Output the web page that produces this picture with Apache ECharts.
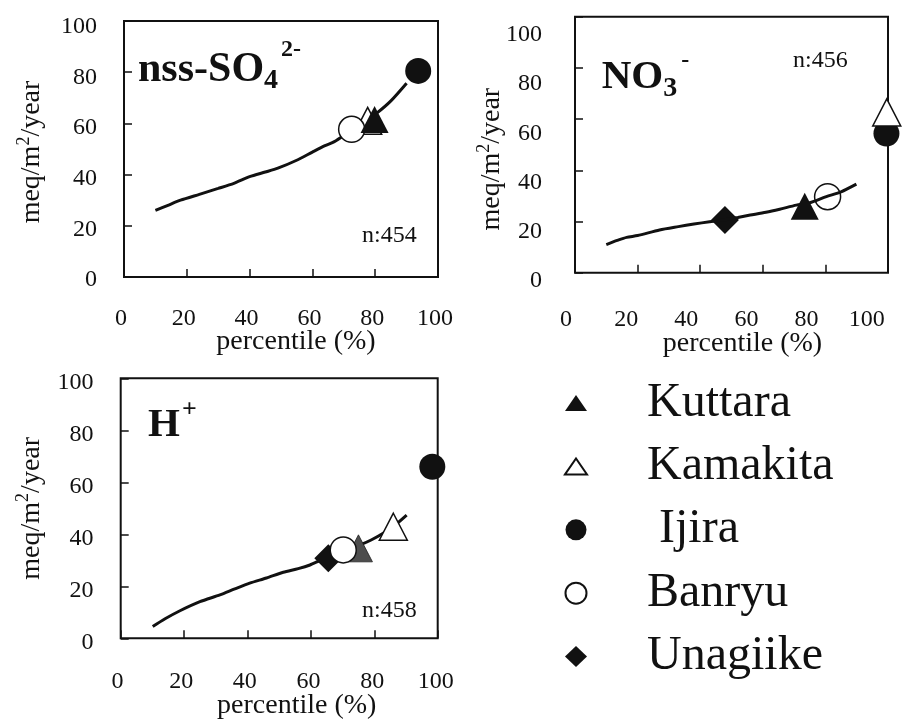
<!DOCTYPE html>
<html>
<head>
<meta charset="utf-8">
<script src="https://cdn.jsdelivr.net/npm/echarts@6/dist/echarts.min.js"></script>
<style>
html,body{margin:0;padding:0;background:#fff;}
#chart{width:902px;height:721px;}
</style>
</head>
<body>
<div id="chart"></div>
<script>
// ---------- data ----------
const axisMin = 0, axisMax = 100, tickStep = 20;
const siteNames = ['Kuttara', 'Kamakita', 'Ijira', 'Banryu', 'Unagiike'];

// percentile curves [percentile, meq/m2/year]
const so4Curve = [[10,26],[14,28],[18,30],[24,32.3],[30,34.6],[35,36.6],[40,39.2],[45,41],[49,42.5],[55,45.6],[60,48.8],[64,51.3],[67,52.9],[70,55.3],[73,58],[77,61],[80.5,64],[85,68.8],[90,75.7]];
const no3Curve = [[10,11],[13.5,12.6],[16.5,13.8],[20,14.5],[27,16.7],[33,18],[38,19],[43,19.9],[47.3,20.6],[52,21.6],[56,22.5],[61,23.6],[65.4,24.8],[70.7,26.4],[75,27.3],[80.3,29.7],[85,31.6],[89.9,34.6]];
const hCurve = [[10.1,4.5],[14,7.5],[18.7,10.6],[25,14.1],[31.3,16.7],[36,19],[40.7,21.2],[46,23.2],[51.3,25.4],[56,26.8],[59.7,28.2],[63,30],[67.1,32],[71,33.8],[75.5,35.9],[79,37.8],[82.8,40.4],[86.5,43.5],[90.2,47.4]];

// site points per panel, ordered as siteNames (null = not shown)
const so4Points = [[79.8,61.5],[77.6,61],[93.7,80.5],[72.5,57.7],null];
const no3Points = [[73.4,26],[99.6,62.6],[99.5,54.4],[80.7,29.7],[47.9,20.6]];
const hPoints   = [[75,34.6],[86,42.9],[98.3,66],[70.2,34],[65.5,30.8]];

const sampleCounts = ['n:454', 'n:456', 'n:458'];

// ---------- styles ----------
const FONT = '"Liberation Serif","Times New Roman",serif';
const INK = '#111';

const frames = [
  {left:124, top:21, width:314, height:256},
  {left:575, top:16.7, width:313, height:256},
  {left:120.7, top:378.3, width:317, height:260}
];
const labelGrids = [
  {left:121, top:27, width:314, height:253},
  {left:566, top:35, width:300.7, height:246},
  {left:117.5, top:382.5, width:318.3, height:260}
];
const xNameGap = [50.5, 56.6, 53.4];
const xNamePad = [30, 22, 35];
const yNameGap = [74, 65, 71];
const yNamePad = [6, 29, 0];

const panelPoints = [so4Points, no3Points, hPoints];
const panelCurves = [so4Curve, no3Curve, hCurve];

const symbolOf = ['triangle','triangle','circle','circle','diamond'];
const sizeOf = [[28,27],[28,27],26,26,28];
function itemStyleOf(siteIdx, panel){
  const open = siteIdx === 1 || siteIdx === 3;
  if (open) return {color:'#fff', borderColor:INK, borderWidth:1.5, opacity:1};
  if (siteIdx === 0 && panel === 2) return {color:'#4d4d4d', borderColor:'#222', borderWidth:0.8, opacity:1};
  return {color:INK, opacity:1};
}
// draw order (z) per panel for sites
const zOrder = [
  [6,4,7,5,3],
  [4,8,7,3,3],
  [5,7,8,6,4]
];
const lineZ = [2,3.5,2];

const grid = [];
const xAxis = [];
const yAxis = [];
const series = [];

frames.forEach((f,i)=>{
  grid.push(Object.assign({show:true, borderColor:INK, borderWidth:2, backgroundColor:'transparent'}, f));
  xAxis.push({
    gridIndex:i, type:'value', min:axisMin, max:axisMax, interval:tickStep,
    axisLine:{show:false}, splitLine:{show:false},
    axisTick:{show:true, inside:true, length:8, lineStyle:{color:INK, width:1.5}},
    axisLabel:{show:false},
    name:'percentile (%)', nameLocation:'middle', nameGap:xNameGap[i],
    nameTextStyle:{fontFamily:FONT, fontSize:28, color:INK, lineHeight:28, padding:[0,0,0,xNamePad[i]]}
  });
  yAxis.push({
    gridIndex:i, type:'value', min:axisMin, max:axisMax, interval:tickStep,
    axisLine:{show:false}, splitLine:{show:false},
    axisTick:{show:true, inside:true, length:8, lineStyle:{color:INK, width:1.5}},
    axisLabel:{show:false},
    name:'{a|meq/m}{s|2}{a|/year}', nameLocation:'middle', nameGap:yNameGap[i],
    nameTextStyle:{fontFamily:FONT, fontSize:28, color:INK, padding:[0,yNamePad[i],0,0],
      rich:{
        a:{fontFamily:FONT, fontSize:28, color:INK, lineHeight:36},
        s:{fontFamily:FONT, fontSize:18, color:INK, lineHeight:21, verticalAlign:'top', padding:[1,0,0,0]}
      }}
  });
});
labelGrids.forEach((g,i)=>{
  grid.push(Object.assign({show:false}, g));
  xAxis.push({
    gridIndex:3+i, type:'value', min:axisMin, max:axisMax, interval:tickStep,
    axisLine:{show:false}, axisTick:{show:false}, splitLine:{show:false},
    axisLabel:{show:true, margin:27, fontFamily:FONT, fontSize:24, color:INK, lineHeight:24}
  });
  yAxis.push({
    gridIndex:3+i, type:'value', min:axisMin, max:axisMax, interval:tickStep,
    axisLine:{show:false}, axisTick:{show:false}, splitLine:{show:false},
    axisLabel:{show:true, margin:24, fontFamily:FONT, fontSize:24, color:INK}
  });
});

// site series (panel 0 first so legend picks black Kuttara)
for (let p=0;p<3;p++){
  series.push({
    type:'line', name:'curve'+p, xAxisIndex:p, yAxisIndex:p, data:panelCurves[p],
    showSymbol:false, smooth:0.25, z:lineZ[p],
    lineStyle:{color:INK, width:3}, silent:true
  });
  siteNames.forEach((name,s)=>{
    const pt = panelPoints[p][s];
    series.push({
      type:'scatter', name:name, xAxisIndex:p, yAxisIndex:p,
      data: pt ? [pt] : [],
      symbol:symbolOf[s], symbolSize:sizeOf[s], clip:false,
      itemStyle:itemStyleOf(s,p), z:zOrder[p][s]
    });
  });
}

const boldRich = (size, extra) => Object.assign({fontFamily:FONT, fontWeight:'bold', fontSize:size, color:INK}, extra);
const titles = [
  {left:138, top:30, padding:0, text:'{m|nss-SO}{b|4}{t|2-}',
   textStyle:{rich:{
     m:boldRich(42,{lineHeight:80}),
     b:boldRich(28,{verticalAlign:'bottom', padding:[0,0,15.5,0]}),
     t:boldRich(24,{verticalAlign:'top', padding:[8,0,0,3]})
   }}},
  {left:601.7, top:37, padding:0, text:'{m|NO}{b|3}{t|-}',
   textStyle:{rich:{
     m:boldRich(41,{lineHeight:80}),
     b:boldRich(28,{verticalAlign:'bottom', padding:[0,0,14.5,0]}),
     t:boldRich(24,{verticalAlign:'top', padding:[12,0,0,4]})
   }}},
  {left:148, top:385, padding:0, text:'{m|H}{t|+}',
   textStyle:{rich:{
     m:boldRich(41,{lineHeight:80}),
     t:boldRich(26,{verticalAlign:'top', padding:[12,0,0,2]})
   }}},
  {left:362, top:224, padding:0, text:sampleCounts[0], textStyle:{fontFamily:FONT, fontWeight:'normal', fontSize:24, color:INK, lineHeight:24}},
  {left:793, top:49, padding:0, text:sampleCounts[1], textStyle:{fontFamily:FONT, fontWeight:'normal', fontSize:24, color:INK, lineHeight:24}},
  {left:362, top:598.5, padding:0, text:sampleCounts[2], textStyle:{fontFamily:FONT, fontWeight:'normal', fontSize:24, color:INK, lineHeight:24}}
];

const triIcon = 'path://M0,16L11,0L22,16Z';
const option = {
  backgroundColor:'#fff',
  animation:false,
  title:titles,
  grid:grid, xAxis:xAxis, yAxis:yAxis,
  legend:{
    orient:'vertical', left:564, top:379, padding:0,
    itemWidth:22, itemHeight:21, itemGap:15.4,
    data:siteNames.map((n,i)=>{
      const d = {name:n, textStyle:{padding:[0,0,0, i===2?67:55]}};
      if (i < 2) d.icon = triIcon;
      return d;
    }),
    textStyle:{fontFamily:FONT, fontSize:48, color:INK, lineHeight:48}
  },
  series:series
};

const chart = echarts.init(document.getElementById('chart'), null, {renderer:'canvas'});
chart.setOption(option);
</script>
</body>
</html>
